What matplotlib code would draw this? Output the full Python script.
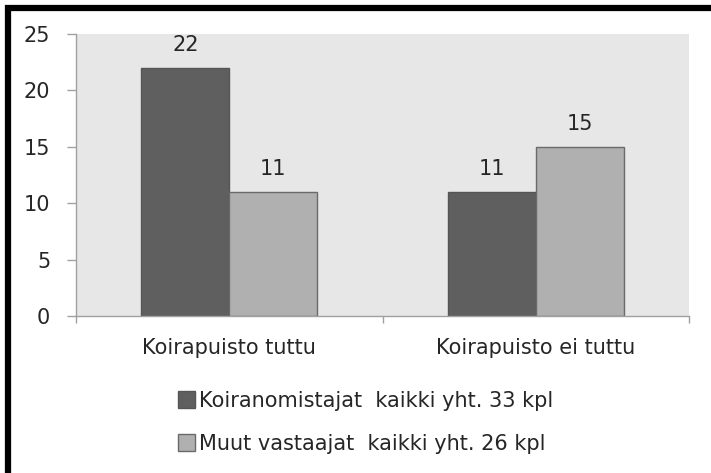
import numpy as np
import matplotlib.pyplot as plt
from matplotlib.patches import Rectangle

categories = ['Koirapuisto tuttu', 'Koirapuisto ei tuttu']
koiranomistajat = [22, 11]
muut = [11, 15]
series_labels = ['Koiranomistajat  kaikki yht. 33 kpl', 'Muut vastaajat  kaikki yht. 26 kpl']
yticks = [0, 5, 10, 15, 20, 25]

plt.rcParams['font.family'] = ['DejaVu Sans']
txt = '#262626'
fs = 15

fig = plt.figure(figsize=(7.11, 4.73), dpi=100)
ax = fig.add_axes([76 / 711, 1 - 316 / 473, (689 - 76) / 711, (316 - 34) / 473])
ax.set_facecolor('#e6e7e6')

x = np.arange(len(categories))
w = 0.287
b1 = ax.bar(x - w / 2, koiranomistajat, w, color='#5f5f5f', edgecolor='#555555', linewidth=1, label=series_labels[0])
b2 = ax.bar(x + w / 2, muut, w, color='#b0b0b0', edgecolor='#6a6a6a', linewidth=1, label=series_labels[1])

for bars in (b1, b2):
    for r in bars:
        ax.annotate(str(int(r.get_height())), (r.get_x() + r.get_width() / 2, r.get_height()),
                    xytext=(0, 16.5), textcoords='offset points', ha='center', va='center',
                    fontsize=fs, color=txt)

ax.set_xlim(-0.5, 1.5)
ax.set_ylim(0, 25)
ax.set_yticks(yticks)
ax.tick_params(axis='y', length=6.5, width=1, color='#a0a0a0', pad=12, labelsize=fs, labelcolor=txt)
ax.set_xticks([-0.5, 0.5, 1.5])
ax.set_xticklabels([])
ax.set_xticks(x, minor=True)
ax.set_xticklabels(categories, minor=True)
ax.tick_params(axis='x', which='major', length=5, width=1, color='#a0a0a0')
ax.tick_params(axis='x', which='minor', length=0, pad=16, labelsize=fs, labelcolor=txt)

for s in ['top', 'right']:
    ax.spines[s].set_visible(False)
for s in ['left', 'bottom']:
    ax.spines[s].set_color('#a0a0a0')
    ax.spines[s].set_linewidth(1)

fig.legend(handles=[b1, b2], loc='upper left', bbox_to_anchor=(159 / 711, 1 - 372 / 473),
           frameon=False, fontsize=fs, labelcolor=txt, handlelength=0.82, handleheight=0.82,
           handletextpad=0.22, labelspacing=1.1)

# outer black frame
fig.patches.append(Rectangle((8 / 711, -0.1), 1.2, 1 - 8 / 473 + 0.1, transform=fig.transFigure,
                             fill=False, edgecolor='black', linewidth=4.5, zorder=10))

fig.savefig('out.png', dpi=100)
